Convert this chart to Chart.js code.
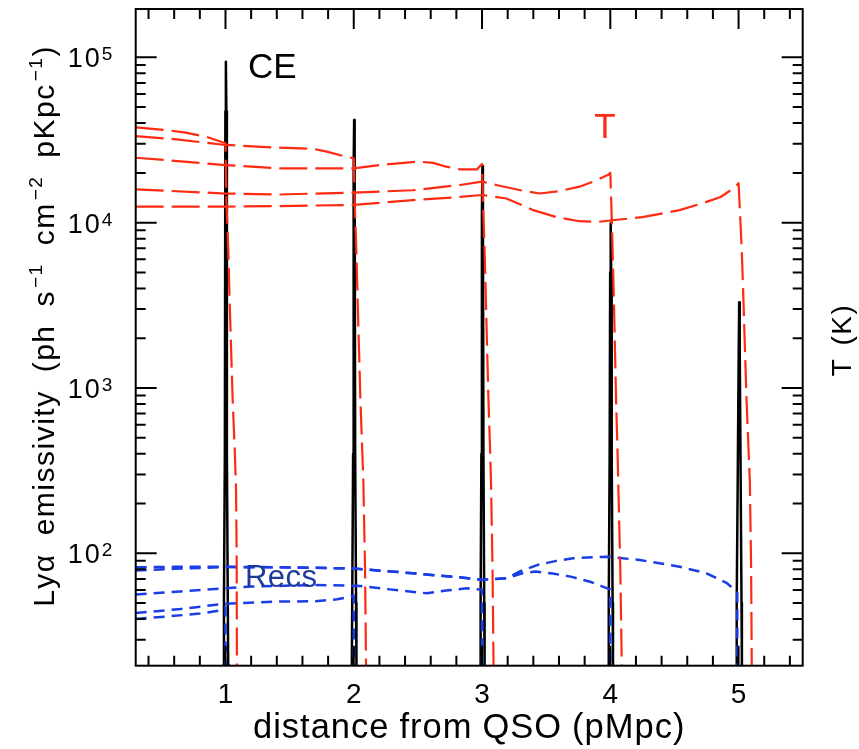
<!DOCTYPE html>
<html>
<head>
<meta charset="utf-8">
<script src="https://cdn.jsdelivr.net/npm/chart.js@4.4.1/dist/chart.umd.min.js"></script>
<style>
  html, body { margin: 0; padding: 0; background: #fff; }
  #wrap { width: 859px; height: 749px; }
</style>
</head>
<body>
<div id="wrap"><canvas id="lyaChart" width="859" height="749"></canvas></div>
<script>
// axis ranges and tick labels
const xRange = [0.3, 5.5];
const yRange = [20.9, 1.96e5];
const xTickLabels = ['1', '2', '3', '4', '5'];
const yTickDecades = [2, 3, 4, 5];

// collisional-excitation emissivity spikes at each front
const ceRun1 = [[0.98, 5], [0.985, 21], [0.988, 50], [0.995, 400], [0.999, 4.7e4], [1.003, 9.4e4], [1.007, 4.7e4], [1.011, 400], [1.018, 50], [1.021, 21], [1.026, 5]];
const ceRun2 = [[1.98, 5], [1.985, 21], [1.988, 50], [1.995, 400], [1.999, 2.1e4], [2.003, 4.17e4], [2.007, 2.1e4], [2.011, 400], [2.018, 50], [2.021, 21], [2.026, 5]];
const ceRun3 = [[2.981, 5], [2.986, 21], [2.989, 50], [2.995, 400], [2.999, 1.1e4], [3.003, 2.2e4], [3.007, 1.1e4], [3.011, 400], [3.017, 50], [3.02, 21], [3.025, 5]];
const ceRun4 = [[3.98, 5], [3.985, 21], [3.988, 50], [3.995, 400], [3.999, 5e3], [4.003, 9.9e3], [4.007, 5e3], [4.011, 400], [4.018, 50], [4.021, 21], [4.026, 5]];
const ceRun5 = [[4.98, 5], [4.984, 21], [4.987, 50], [4.995, 400], [5.001, 1.65e3], [5.005, 3.3e3], [5.009, 1.65e3], [5.015, 400], [5.023, 50], [5.026, 21], [5.03, 5]];

// recombination emissivity
const recsRun1 = [[0.3, 40.1], [0.55, 41.5], [0.8, 43.2], [0.95, 45], [1.0, 47.5], [1.0, 5]];
const recsRun2 = [[0.3, 43.5], [0.65, 46], [0.98, 49.4], [1.4, 51], [1.7, 51.3], [1.87, 52.7], [1.97, 54.6], [2.0, 55.5], [2.0, 5]];
const recsRun3 = [[0.3, 56.3], [0.65, 58.8], [1.0, 61.4], [1.2, 62.9], [1.7, 64.3], [2.05, 63.5], [2.28, 60.5], [2.57, 57.3], [2.72, 59.5], [2.88, 61.4], [3.0, 60.3], [3.0, 5]];
const recsRun4 = [[0.3, 78.8], [0.6, 80.5], [1.0, 82.5], [1.4, 82.3], [2.0, 81], [2.46, 75.7], [2.77, 72.2], [3.0, 69.3], [3.19, 70.6], [3.32, 76], [3.42, 77.5], [3.55, 75.5], [3.7, 72], [3.85, 67], [3.95, 62.5], [4.0, 60.5], [4.0, 5]];
const recsRun5 = [[0.3, 82.3], [0.6, 82.8], [1.0, 83], [1.4, 82.3], [2.0, 81], [2.46, 75.7], [2.77, 72.2], [3.0, 69.3], [3.19, 70.6], [3.3, 78], [3.43, 84.9], [3.58, 90], [3.71, 93.3], [3.97, 95.4], [4.23, 91.1], [4.54, 83], [4.75, 75.7], [4.91, 65.9], [4.99, 57.8], [4.99, 5]];

// gas temperature (K)
const tempRun1 = [[0.3, 3.77e4], [0.54, 3.63e4], [0.69, 3.5e4], [0.85, 3.31e4], [1.0, 3.02e4],
  [1.008, 1.3e4], [1.022, 6.8e3], [1.032, 3.4e3], [1.056, 850], [1.072, 420], [1.082, 250], [1.087, 100], [1.089, 20], [1.09, 5]];
const tempRun2 = [[0.3, 3.34e4], [0.6, 3.2e4], [1.0, 2.95e4], [1.42, 2.84e4], [1.68, 2.8e4], [1.79, 2.69e4], [1.92, 2.53e4], [2.0, 2.45e4],
  [2.008, 1.3e4], [2.02, 6.8e3], [2.03, 3.4e3], [2.052, 850], [2.066, 420], [2.075, 270], [2.088, 80], [2.096, 20], [2.097, 5]];
const tempRun3 = [[0.3, 2.47e4], [0.65, 2.35e4], [1.0, 2.23e4], [1.42, 2.13e4], [2.0, 2.13e4], [2.2, 2.23e4], [2.5, 2.34e4], [2.62, 2.3e4], [2.72, 2.18e4], [2.83, 2.1e4], [2.96, 2.1e4], [3.0, 2.26e4],
  [3.008, 1.3e4], [3.02, 6.8e3], [3.03, 3.4e3], [3.05, 850], [3.063, 420], [3.07, 270], [3.082, 80], [3.09, 20], [3.091, 5]];
const tempRun4 = [[0.3, 1.59e4], [1.0, 1.5e4], [1.42, 1.48e4], [2.0, 1.52e4], [2.46, 1.57e4], [2.83, 1.69e4], [3.0, 1.77e4], [3.11, 1.69e4], [3.3, 1.57e4], [3.45, 1.5e4], [3.6, 1.55e4], [3.76, 1.65e4], [3.89, 1.8e4], [3.98, 1.94e4], [4.0, 2.0e4],
  [4.008, 1.3e4], [4.018, 6.8e3], [4.028, 3.4e3], [4.045, 850], [4.056, 420], [4.062, 270], [4.078, 80], [4.09, 20], [4.091, 5]];
const tempRun5 = [[0.3, 1.25e4], [1.0, 1.25e4], [1.42, 1.26e4], [2.0, 1.28e4], [2.46, 1.37e4], [2.83, 1.43e4], [3.0, 1.47e4], [3.19, 1.4e4], [3.4, 1.19e4], [3.58, 1.08e4], [3.76, 1.02e4], [3.9, 1.01e4], [4.0, 1.03e4], [4.25, 1.08e4], [4.54, 1.19e4], [4.72, 1.31e4], [4.86, 1.43e4], [4.96, 1.61e4], [5.0, 1.73e4],
  [5.01, 1.2e4], [5.025, 6.8e3], [5.038, 3.4e3], [5.062, 850], [5.078, 420], [5.088, 270], [5.098, 80], [5.103, 20], [5.104, 5]];

// in-plot labels, placed in data coordinates
const labelCE = { text: 'CE', x: 1.175, y: 7.46e4 };
const labelRecs = { text: 'Recs', x: 1.152, y: 62.5 };
const labelT = { text: 'T', x: 3.959, y: 3.24e4 };

const xTitle = ['distance', ' ', 'from', ' ', 'QSO', ' ', '(pMpc)'];
const yTitle = ['Lyα', ' ', 'emissivity', ' ', '(ph', ' ', 's', '^−1', ' ', 'cm', '^−2', ' ', 'pKpc', '^−1', ')'];
const yTitleRight = ['T', ' ', '(K)'];

const RED = '#ff2a12';
const BLUE = '#1a3de6';
const FONT = '"Liberation Sans", Arial, sans-serif';

function series(points, color, width, dash, axis, order) {
  return {
    data: points.map(([x, y]) => ({ x, y })),
    borderColor: color,
    borderWidth: width,
    borderDash: dash,
    borderJoinStyle: 'round',
    yAxisID: axis,
    order: order,
    pointRadius: 0,
    tension: 0,
    fill: false
  };
}

// letter-spaced text: returns advance, draws when asked
function spacedText(ctx, text, x, y, spacing, draw) {
  let pos = x;
  for (const ch of text) {
    if (draw) ctx.fillText(ch, pos, y);
    pos += ctx.measureText(ch).width + spacing;
  }
  return pos - x;
}

// words and superscripts centred on cx along a baseline
function drawRich(ctx, parts, cx, baseline, opt) {
  const { size, supSize, gap, spacing } = opt;
  ctx.textAlign = 'left';
  const items = parts.map(p => {
    if (p === ' ') return { gap: true, w: gap };
    const sup = p.startsWith('^');
    const t = sup ? p.slice(1) : p;
    ctx.font = `${sup ? supSize : size}px ${FONT}`;
    return { t, sup, w: spacedText(ctx, t, 0, 0, spacing, false) + (sup ? 2 : 0) };
  });
  const total = items.reduce((s, it) => s + it.w, 0);
  let pos = cx - total / 2;
  items.forEach(it => {
    if (!it.gap) {
      ctx.font = `${it.sup ? supSize : size}px ${FONT}`;
      spacedText(ctx, it.t, pos + (it.sup ? 2 : 0), it.sup ? baseline - size * 0.4 : baseline, spacing, true);
    }
    pos += it.w;
  });
}

const axisDecor = {
  id: 'axisDecor',
  afterDatasetsDraw(chart) {
    const { ctx, chartArea: a, scales } = chart;
    const x = scales.x, y = scales.y, yT = scales.yT;
    ctx.save();

    // frame and inward ticks on all four sides
    ctx.strokeStyle = '#000';
    ctx.lineWidth = 2;
    ctx.strokeRect(a.left, a.top, a.right - a.left, a.bottom - a.top);
    ctx.beginPath();
    for (let i = 2; i * 0.2 < xRange[1]; i++) {
      const px = x.getPixelForValue(i * 0.2);
      const len = i % 5 === 0 ? 20 : 10;
      ctx.moveTo(px, a.bottom); ctx.lineTo(px, a.bottom - len);
      ctx.moveTo(px, a.top); ctx.lineTo(px, a.top + len);
    }
    for (let d = 1; d <= 5; d++) {
      for (let m = 1; m <= 9; m++) {
        const v = m * Math.pow(10, d);
        if (v < yRange[0] || v > yRange[1]) continue;
        const len = m === 1 ? 21 : 10;
        const pl = y.getPixelForValue(v);
        const pr = yT.getPixelForValue(v);
        ctx.moveTo(a.left, pl); ctx.lineTo(a.left + len, pl);
        ctx.moveTo(a.right, pr); ctx.lineTo(a.right - len, pr);
      }
    }
    ctx.stroke();

    // tick labels
    ctx.fillStyle = '#000';
    ctx.textBaseline = 'alphabetic';
    ctx.textAlign = 'center';
    ctx.font = `28px ${FONT}`;
    xTickLabels.forEach(t => ctx.fillText(t, x.getPixelForValue(Number(t)), a.bottom + 37));
    yTickDecades.forEach(d => {
      const py = y.getPixelForValue(Math.pow(10, d));
      ctx.font = `27px ${FONT}`;
      ctx.textAlign = 'left';
      spacedText(ctx, '10', a.left - 68, py + 10, 2, true);
      ctx.font = `19px ${FONT}`;
      ctx.fillText(String(d), a.left - 34, py + 3);
    });

    // axis titles
    drawRich(ctx, xTitle, (a.left + a.right) / 2, a.bottom + 72, { size: 34.5, supSize: 20, gap: 10, spacing: 1 });
    ctx.save();
    ctx.translate(a.left - 82, 326);
    ctx.rotate(-Math.PI / 2);
    drawRich(ctx, yTitle, 0, 0, { size: 30, supSize: 19, gap: 18, spacing: 1.5 });
    ctx.restore();
    ctx.save();
    ctx.translate(a.right + 48, 340);
    ctx.rotate(-Math.PI / 2);
    drawRich(ctx, yTitleRight, 0, 0, { size: 28, supSize: 18, gap: 12, spacing: 1.5 });
    ctx.restore();

    // curve labels
    ctx.textAlign = 'left';
    ctx.font = `35px ${FONT}`;
    ctx.fillStyle = '#000';
    ctx.fillText(labelCE.text, x.getPixelForValue(labelCE.x), y.getPixelForValue(labelCE.y));
    ctx.font = `31px ${FONT}`;
    ctx.fillStyle = '#1e3a9e';
    spacedText(ctx, labelRecs.text, x.getPixelForValue(labelRecs.x), y.getPixelForValue(labelRecs.y), 0.5, true);
    ctx.textAlign = 'center';
    ctx.font = `35px ${FONT}`;
    ctx.fillStyle = RED;
    ctx.fillText(labelT.text, x.getPixelForValue(labelT.x), yT.getPixelForValue(labelT.y));

    ctx.restore();
  }
};

const ceSets = [ceRun1, ceRun2, ceRun3, ceRun4, ceRun5].map(r => series(r, '#000', 2.5, [], 'y', 3));
const recsSets = [recsRun1, recsRun2, recsRun3, recsRun4, recsRun5].map(r => series(r, BLUE, 2.5, [11, 7], 'y', 2));
const tempSets = [tempRun1, tempRun2, tempRun3, tempRun4, tempRun5].map(r => series(r, RED, 2.2, [28, 8], 'yT', 1));

new Chart(document.getElementById('lyaChart'), {
  type: 'line',
  data: { datasets: [...ceSets, ...recsSets, ...tempSets] },
  options: {
    responsive: false,
    animation: false,
    devicePixelRatio: 1,
    events: [],
    layout: { padding: { left: 135.7, top: 9, right: 56.3, bottom: 83.3 } },
    plugins: { legend: { display: false }, tooltip: { enabled: false } },
    scales: {
      x: { type: 'linear', min: xRange[0], max: xRange[1], display: false },
      y: { type: 'logarithmic', min: yRange[0], max: yRange[1], display: false },
      yT: { type: 'logarithmic', position: 'right', min: yRange[0], max: yRange[1], display: false }
    }
  },
  plugins: [axisDecor]
});
</script>
</body>
</html>
